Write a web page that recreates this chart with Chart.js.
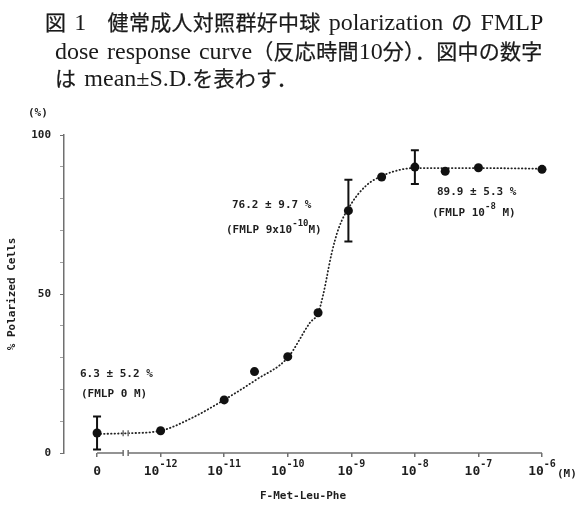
<!DOCTYPE html>
<html lang="ja">
<head>
<meta charset="utf-8">
<script src="https://cdn.jsdelivr.net/npm/chart.js@4.4.1/dist/chart.umd.min.js"></script>
<style>
    body { margin: 0; background: #fff; }
    #wrap { position: relative; width: 577px; height: 505px; overflow: hidden; }
    #chart { position: absolute; left: 0; top: 0; }
    .title {
        position: absolute;
        font-family: "Liberation Serif", serif;
        font-size: 24px;
        line-height: 28px;
        color: #1a1a1a;
        white-space: nowrap;
        word-spacing: 2px;
    }
    .title .j {
        font-family: "Noto Sans CJK JP", sans-serif;
        font-size: 21px;
        letter-spacing: 0.3px;
        -webkit-text-stroke: 0.25px #1a1a1a;
    }
</style>
</head>
<body>
<div id="wrap">
    <canvas id="chart" width="577" height="505"></canvas>
    <div class="title" style="left:45px; top:7px"><span class="j">図</span> 1<span class="j">　健常成人対照群好中球</span> polarization <span class="j">の</span> FMLP</div>
    <div class="title" style="left:55px; top:36px">dose response curve<span class="j">（反応時間</span>10<span class="j">分）．図中の数字</span></div>
    <div class="title" style="left:55px; top:63px"><span class="j">は</span> mean±S.D.<span class="j">を表わす．</span></div>
</div>
<script>
// FMLP concentration (M); 0 = control, drawn one decade left of 10^-12
const doses = [0, 1e-12, 1e-11, 3e-11, 1e-10, 3e-10, 9e-10, 3e-9, 1e-8, 3e-8, 1e-7, 1e-6];
const polarized = [6.3, 7.0, 16.7, 25.6, 30.3, 44.1, 76.2, 86.8, 89.9, 88.6, 89.7, 89.2];
const sdValues = [5.2, null, null, null, null, null, 9.7, null, 5.3, null, null, null];

// dotted curve (log10 M, %)
const curveLog = [-13, -12.55, -12, -11.5, -11, -10.5, -10, -9.65, -9.52, -9.44, -9.31, -9.2, -9.0, -8.76, -8.5, -8.2, -8, -7, -6];
const curveVal = [6.0, 6.2, 7.0, 11.1, 16.7, 23.0, 30.0, 41.0, 44.1, 50.0, 62.7, 70.6, 78.4, 84.2, 87.3, 89.2, 89.6, 89.6, 89.4];

// x axis ticks (log10 M) and their labels: [base, exponent]
const xTicks = [-13, -12, -11, -10, -9, -8, -7, -6];
const xTickLabels = [["0", ""], ["10", "-12"], ["10", "-11"], ["10", "-10"], ["10", "-9"], ["10", "-8"], ["10", "-7"], ["10", "-6"]];
const yTickLabels = [0, 50, 100];
const breakAt = -12.55;

const MONO = "'DejaVu Sans Mono', monospace";
const INK = "#1e1e1e";
const AXIS = "#707070";

function toLog(d) {
    return d === 0 ? -13 : Math.log10(d);
}

// texte avec exposants
function drawRuns(ctx, x, y, runs, size) {
    let cx = x;
    runs.forEach(function (r) {
        const sup = r[1];
        ctx.font = "bold " + (sup ? size - 2 : size) + "px " + MONO;
        ctx.fillText(r[0], cx, sup ? y - 6 : y);
        cx += ctx.measureText(r[0]).width;
    });
}

const decorPlugin = {
    id: "decor",
    afterDatasetsDraw: function (chart) {
        const ctx = chart.ctx;
        const xs = chart.scales.x;
        const ys = chart.scales.y;
        const axisY = chart.chartArea.bottom;
        ctx.save();

        // x axis with a break
        const x0 = xs.getPixelForValue(-13);
        const x1 = xs.getPixelForValue(-6);
        const xb = xs.getPixelForValue(breakAt);
        ctx.strokeStyle = AXIS;
        ctx.lineWidth = 1.5;
        ctx.beginPath();
        ctx.moveTo(x0, axisY);
        ctx.lineTo(xb - 2.5, axisY);
        ctx.moveTo(xb + 2.5, axisY);
        ctx.lineTo(x1, axisY);
        ctx.stroke();
        // break marks on axis and on curve
        const cy = ys.getPixelForValue(6.2);
        [axisY, cy].forEach(function (yy) {
            ctx.beginPath();
            ctx.moveTo(xb - 2.5, yy - 3);
            ctx.lineTo(xb - 2.5, yy + 3);
            ctx.moveTo(xb + 2.5, yy - 3);
            ctx.lineTo(xb + 2.5, yy + 3);
            ctx.stroke();
        });

        // x tick labels
        ctx.fillStyle = INK;
        ctx.textBaseline = "middle";
        ctx.textAlign = "left";
        xTicks.forEach(function (v, i) {
            const base = xTickLabels[i][0];
            const exp = xTickLabels[i][1];
            ctx.font = "bold 13px " + MONO;
            const wb = ctx.measureText(base).width;
            ctx.font = "bold 10px " + MONO;
            const we = exp ? ctx.measureText(exp).width : 0;
            const left = xs.getPixelForValue(v) - (wb + we) / 2;
            ctx.font = "bold 13px " + MONO;
            ctx.fillText(base, left, axisY + 19);
            if (exp) {
                ctx.font = "bold 10px " + MONO;
                ctx.fillText(exp, left + wb, axisY + 11);
            }
        });
        ctx.font = "bold 11px " + MONO;
        ctx.fillText("(M)", 557, axisY + 21);
        ctx.fillText("(%)", 28, 113);

        // error bars (mean ± S.D.)
        ctx.strokeStyle = "#111";
        ctx.lineWidth = 2;
        doses.forEach(function (d, i) {
            if (sdValues[i] == null) return;
            const px = xs.getPixelForValue(toLog(d));
            const top = ys.getPixelForValue(polarized[i] + sdValues[i]);
            const bot = ys.getPixelForValue(polarized[i] - sdValues[i]);
            ctx.beginPath();
            ctx.moveTo(px, top);
            ctx.lineTo(px, bot);
            ctx.moveTo(px - 4, top);
            ctx.lineTo(px + 4, top);
            ctx.moveTo(px - 4, bot);
            ctx.lineTo(px + 4, bot);
            ctx.stroke();
        });

        // annotations
        ctx.fillStyle = INK;
        drawRuns(ctx, 80, 374, [["6.3 ± 5.2 %", false]], 11);
        drawRuns(ctx, 81, 394, [["(FMLP 0 M)", false]], 11);
        drawRuns(ctx, 232, 205, [["76.2 ± 9.7 %", false]], 11);
        drawRuns(ctx, 226, 230, [["(FMLP 9x10", false], ["-10", true], ["M)", false]], 11);
        drawRuns(ctx, 437, 192, [["89.9 ± 5.3 %", false]], 11);
        drawRuns(ctx, 432, 213, [["(FMLP 10", false], ["-8", true], [" M)", false]], 11);

        ctx.restore();
    }
};

const ctxChart = document.getElementById("chart").getContext("2d");
new Chart(ctxChart, {
    type: "scatter",
    data: {
        datasets: [
            {
                label: "polarized",
                data: doses.map(function (d, i) {
                    return { x: toLog(d), y: polarized[i] };
                }),
                pointRadius: 4.5,
                pointBackgroundColor: "#111",
                pointBorderWidth: 0,
                clip: false,
                order: 0
            },
            {
                label: "curve",
                data: curveLog.map(function (x, i) {
                    return { x: x, y: curveVal[i] };
                }),
                showLine: true,
                cubicInterpolationMode: "monotone",
                borderColor: "#222",
                borderWidth: 1.8,
                borderCapStyle: "round",
                borderDash: [0.5, 3],
                pointRadius: 0,
                fill: false,
                clip: false,
                order: 1
            }
        ]
    },
    options: {
        responsive: false,
        animation: false,
        devicePixelRatio: 1,
        layout: { padding: { top: 135, right: 35, left: 0, bottom: 0 } },
        plugins: {
            legend: { display: false },
            tooltip: { enabled: false }
        },
        scales: {
            x: {
                type: "linear",
                min: -13.52,
                max: -6,
                afterBuildTicks: function (s) {
                    s.ticks = xTicks.map(function (v) { return { value: v }; });
                },
                afterFit: function (s) { s.height = 52; },
                border: { display: false },
                grid: { drawOnChartArea: false, tickLength: 4, color: AXIS, lineWidth: 1.5 },
                ticks: { callback: function () { return ""; } },
                title: {
                    display: true,
                    text: "F-Met-Leu-Phe",
                    color: INK,
                    font: { family: MONO, weight: "bold", size: 11 },
                    padding: { top: 0, bottom: 2 }
                }
            },
            y: {
                min: 0,
                max: 100,
                afterFit: function (s) { s.width = 64; },
                border: { display: true, color: AXIS, width: 1.5 },
                grid: {
                    drawOnChartArea: false,
                    tickLength: 4,
                    tickColor: function (c) {
                        return c.tick && c.tick.value % 50 === 0 ? AXIS : "#a0a0a0";
                    }
                },
                ticks: {
                    stepSize: 10,
                    padding: 9,
                    color: INK,
                    font: { family: MONO, weight: "bold", size: 11 },
                    callback: function (v) {
                        return yTickLabels.includes(v) ? String(v) : "";
                    }
                },
                title: {
                    display: true,
                    text: "% Polarized Cells",
                    color: INK,
                    font: { family: MONO, weight: "bold", size: 11 },
                    padding: { top: 6, bottom: 0 }
                }
            }
        }
    },
    plugins: [decorPlugin]
});
</script>
</body>
</html>
